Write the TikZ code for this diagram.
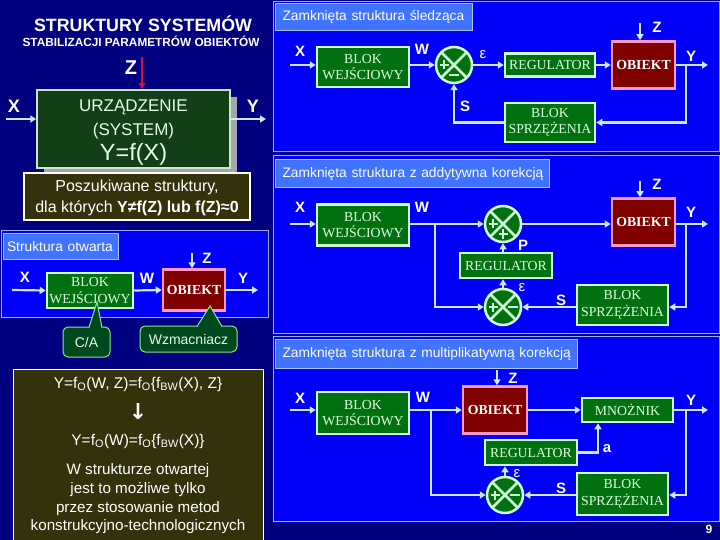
\documentclass[tikz,border=0pt]{standalone}
\usepackage{fontspec}
\setmainfont{Liberation Sans}
\newfontfamily\tmsfont{Liberation Serif}
\newfontfamily\djvfont{DejaVu Sans}
\usetikzlibrary{arrows.meta}
\definecolor{pagebg}{RGB}{0,0,128}
\definecolor{panelf}{RGB}{0,0,250}
\definecolor{panelb}{RGB}{150,170,255}
\definecolor{tabf}{RGB}{64,115,255}
\definecolor{tabb}{RGB}{170,195,255}
\definecolor{gfill}{RGB}{0,112,16}
\definecolor{mint}{RGB}{205,255,210}
\definecolor{gtext}{RGB}{225,255,225}
\definecolor{ofill}{RGB}{128,0,0}
\definecolor{opink}{RGB}{255,150,200}
\definecolor{wirec}{RGB}{205,232,255}
\definecolor{olivef}{RGB}{52,50,10}
\definecolor{urzf}{RGB}{18,62,24}
\definecolor{urzb}{RGB}{200,230,200}
\definecolor{shadowc}{RGB}{165,165,175}
\definecolor{callf}{RGB}{0,72,30}
\definecolor{callb}{RGB}{140,230,140}
\definecolor{redarr}{RGB}{210,20,50}
\begin{document}
\begin{tikzpicture}[x=1pt,y=-1pt,
 gbox/.style={draw=mint, fill=gfill, line width=2.5pt, inner sep=0pt, align=center, text=gtext, font=\tmsfont\fontsize{13.8}{16.5}\selectfont},
 obox/.style={draw=opink, fill=ofill, line width=2.5pt, inner sep=0pt, text=white, font=\tmsfont\bfseries\fontsize{13.8}{16}\selectfont, minimum width=63pt, minimum height=47pt},
 sumj/.style={circle, draw=mint, fill=gfill, line width=2.5pt, minimum size=36pt, inner sep=0pt,
   path picture={\draw[mint, line width=2.5pt] (path picture bounding box.north west) -- (path picture bounding box.south east) (path picture bounding box.north east) -- (path picture bounding box.south west);}},
 sgn/.style={draw=mint, line width=2.2pt},
 wire/.style={draw=wirec, line width=2.2pt},
 arr/.style={wire, -{Triangle[length=6pt,width=7pt]}},
 lbl/.style={anchor=base, inner sep=0pt, text=white, font=\bfseries\fontsize{15}{15}\selectfont},
 epsl/.style={anchor=base, inner sep=0pt, text=white, font=\fontsize{15}{15}\selectfont},
 panel/.style={draw=panelb, fill=panelf, line width=1pt},
 tab/.style={draw=tabb, fill=tabf, line width=1pt, anchor=north west, inner xsep=7pt, inner ysep=0pt, align=left, text=white, font=\fontsize{13.8}{14}\selectfont},
 txt/.style={anchor=base, inner sep=0pt, text=white},
 olive/.style={draw=white, fill=olivef, line width=1.2pt, inner sep=0pt},
 callout/.style={draw=callb, fill=callf, line width=1pt, rounded corners=5pt, inner sep=0pt, text=gtext, font=\fontsize{14}{14}\selectfont},
]
\useasboundingbox (0,0) rectangle (720,540);
\fill[pagebg] (0,0) rectangle (720,540);

% ---------------- top left ----------------
\node[txt, font=\bfseries\fontsize{17.8}{18}\selectfont] (title) at (143,32) {STRUKTURY SYSTEMÓW};
\node[txt, font=\bfseries\fontsize{11.8}{12}\selectfont] (subt) at (141,47) {STABILIZACJI PARAMETRÓW OBIEKTÓW};
\fill[shadowc] (44,97) rectangle (237,175);
\node[draw=urzb, fill=urzf, line width=1.5pt, minimum width=193pt, minimum height=78pt, inner sep=0pt] (urz) at (133.5,129) {};
\node[txt, text=gtext, font=\fontsize{17}{17}\selectfont] (urz1) at (133.5,112) {URZĄDZENIE};
\node[txt, text=gtext, font=\fontsize{17}{17}\selectfont] (urz2) at (133.5,136) {(SYSTEM)};
\node[txt, text=gtext, font=\fontsize{23.5}{24}\selectfont] (urz3) at (133.5,161) {Y=f(X)};
\node[txt, font=\bfseries\fontsize{20}{20}\selectfont] (zt) at (131,75) {Z};
\node[txt, font=\bfseries\fontsize{18}{18}\selectfont] (xt) at (14,113) {X};
\node[txt, font=\bfseries\fontsize{18}{18}\selectfont] (yt) at (253,113) {Y};
\coordinate (xa) at (6,119);
\coordinate (ya) at (266,119);
\coordinate (za) at (142,57);
\draw[arr] (xa) -- (xa -| urz.west);
\draw[arr] (ya -| urz.east) -- (ya);
\draw[draw=redarr, line width=2pt, -{Triangle[length=6pt,width=6pt]}] (za) -- (za |- urz.north);

\node[olive, minimum width=226pt, minimum height=47pt] (posz) at (137,196.5) {};
\node[txt, font=\fontsize{16}{16}\selectfont] (posz1) at (137,192) {Poszukiwane struktury,};
\node[txt, font=\fontsize{16}{16}\selectfont] (posz2) at (137,212) {dla których \textbf{Y≠f(Z) lub f(Z)≈0}};

% ---------------- open structure ----------------
\draw[panel] (1,231) rectangle (268,317);
\node[tab, inner xsep=3.5pt, text width=108pt, minimum height=26pt] (t0) at (3,233) {\mbox{Struktura otwarta}};
\node[gbox, minimum width=86pt, minimum height=35pt] (bw0) at (90,290.5) {BLOK\\WEJŚCIOWY};
\node[obox, minimum width=62pt, minimum height=41pt] (obj0) at (194,290) {OBIEKT};
\coordinate (x0) at (12,290);
\coordinate (y0) at (258,290);
\coordinate (z0) at (192,253);
\draw[arr] (x0) -- (bw0.west);
\draw[arr] (bw0.east) -- (obj0.west);
\draw[arr] (obj0.east) -- (y0);
\draw[arr] (z0) -- (z0 |- obj0.north);
\node[lbl] (lx0) at (25,282) {X};
\node[lbl] (lw0) at (147,283) {W};
\node[lbl] (lz0) at (207,263) {Z};
\node[lbl] (ly0) at (243,283) {Y};

\node[callout, minimum width=47pt, minimum height=30pt] (ca) at (86.5,342) {C/A};
\coordinate (cat) at (97,302);
\fill[callf] (89,328.5) -- (cat) -- (102,328.5) -- cycle;
\draw[callb, line width=1pt] (89,327.5) -- (cat) -- (102,327.5);
\node[callout, minimum width=97pt, minimum height=26pt] (wz) at (188.5,339) {Wzmacniacz};
\coordinate (wzt) at (210,306);
\fill[callf] (197,327.5) -- (wzt) -- (222,327.5) -- cycle;
\draw[callb, line width=1pt] (197,326.5) -- (wzt) -- (222,326.5);

% ---------------- bottom-left box ----------------
\node[olive, anchor=north west, minimum width=250pt, minimum height=175pt] (fbox) at (13,369) {};
\node[txt, font=\fontsize{15.5}{16}\selectfont] (b1) at (138,388) {Y=f\textsubscript{O}(W, Z)=f\textsubscript{O}\{f\textsubscript{BW}(X), Z\}};
\node[txt, font=\djvfont\bfseries\fontsize{22}{22}\selectfont] (b2) at (138,419) {↓};
\node[txt, font=\fontsize{15.5}{16}\selectfont] (b3) at (138,445) {Y=f\textsubscript{O}(W)=f\textsubscript{O}\{f\textsubscript{BW}(X)\}};
\node[txt, font=\fontsize{15.2}{16}\selectfont] (b4) at (138,474) {W strukturze otwartej};
\node[txt, font=\fontsize{15.2}{16}\selectfont] (b5) at (138,493) {jest to możliwe tylko};
\node[txt, font=\fontsize{15.2}{16}\selectfont] (b6) at (138,512) {przez stosowanie metod};
\node[txt, font=\fontsize{15.2}{16}\selectfont] (b7) at (138,530) {konstrukcyjno-technologicznych};

% ---------------- panel 1 ----------------
\draw[panel] (273,2) rectangle (719,152);
\node[tab, text width=183pt, minimum height=27pt] (t1) at (275,3) {\mbox{Zamknięta struktura śledząca}};
\node[gbox, minimum width=92pt, minimum height=40pt] (bw1) at (363,67) {BLOK\\WEJŚCIOWY};
\node[sumj] (sum1) at (454,65) {};
\node[gbox, minimum width=90pt, minimum height=23pt] (reg1) at (550,65) {REGULATOR};
\node[obox] (obj1) at (643.5,65) {OBIEKT};
\node[gbox, minimum width=90pt, minimum height=39pt] (bs1) at (550,122.5) {BLOK\\SPRZĘŻENIA};
\coordinate (x1) at (290,65);
\coordinate (y1) at (708,65);
\coordinate (z1) at (640,23);
\coordinate (f1) at (686,65);
\draw[arr] (x1) -- (x1 -| bw1.west);
\draw[arr] (bw1.east |- sum1) -- (sum1.west);
\draw[arr] (sum1.east) -- (reg1.west);
\draw[arr] (reg1.east) -- (obj1.west);
\draw[arr] (obj1.east) -- (y1);
\draw[arr] (z1) -- (z1 |- obj1.north);
\draw[arr] (f1) |- (bs1.east);
\draw[arr] (bs1.west) -| (sum1.south);
\draw[sgn] (sum1.center) ++(-10,0) +(-4.5,0) -- +(4.5,0) +(0,-4.5) -- +(0,4.5);
\draw[sgn] (sum1.center) ++(0,10) +(-5,0) -- +(5,0);
\node[lbl] (lx1) at (300,57) {X};
\node[lbl] (lw1) at (422,55) {W};
\node[epsl] (le1) at (483,59) {ε};
\node[lbl] (lz1) at (657,33) {Z};
\node[lbl] (ly1) at (691,62) {Y};
\node[lbl] (ls1) at (465,112) {S};

% ---------------- panel 2 ----------------
\draw[panel] (273,156) rectangle (719,333);
\node[tab, text width=260pt, minimum height=28pt] (t2) at (275,159) {\mbox{Zamknięta struktura z addytywna korekcją}};
\node[gbox, minimum width=92pt, minimum height=41pt] (bw2) at (363,225) {BLOK\\WEJŚCIOWY};
\node[sumj] (sum2a) at (503,224) {};
\node[obox] (obj2) at (643.5,222) {OBIEKT};
\node[gbox, minimum width=92pt, minimum height=25pt] (reg2) at (506,265.5) {REGULATOR};
\node[sumj] (sum2b) at (503,307) {};
\node[gbox, minimum width=91pt, minimum height=40pt] (bs2) at (622.5,305) {BLOK\\SPRZĘŻENIA};
\coordinate (x2) at (290,224);
\coordinate (br2) at (435,224);
\coordinate (y2) at (708,224);
\coordinate (z2) at (640,181);
\coordinate (f2) at (686,224);
\draw[arr] (x2) -- (x2 -| bw2.west);
\draw[arr] (x2 -| bw2.east) -- (sum2a.west);
\draw[arr] (br2) |- (sum2b.west);
\draw[arr] (sum2a.east) -- (sum2a.east -| obj2.west);
\draw[arr] (y2 -| obj2.east) -- (y2);
\draw[arr] (z2) -- (z2 |- obj2.north);
\draw[arr] (f2) |- (sum2b -| bs2.east);
\draw[arr] (sum2b -| bs2.west) -- (sum2b.east);
\draw[arr] (sum2b.north) -- (sum2b.north |- reg2.south);
\draw[arr] (sum2a.south |- reg2.north) -- (sum2a.south);
\draw[sgn] (sum2a.center) ++(-10,0) +(-4.5,0) -- +(4.5,0) +(0,-4.5) -- +(0,4.5);
\draw[sgn] (sum2a.center) ++(0,10) +(-4.5,0) -- +(4.5,0) +(0,-4.5) -- +(0,4.5);
\draw[sgn] (sum2b.center) ++(-10,0) +(-4.5,0) -- +(4.5,0) +(0,-4.5) -- +(0,4.5);
\draw[sgn] (sum2b.center) ++(10,0) +(-5,0) -- +(5,0);
\node[lbl] (lx2) at (300,213) {X};
\node[lbl] (lw2) at (422,213) {W};
\node[lbl] (lz2) at (657,190) {Z};
\node[lbl] (ly2) at (691,218) {Y};
\node[lbl] (lp2) at (523,250) {P};
\node[epsl] (le2) at (522,291) {ε};
\node[lbl] (ls2) at (561,305) {S};

% ---------------- panel 3 ----------------
\draw[panel] (273,336) rectangle (719,521);
\node[tab, text width=288pt, minimum height=29pt] (t3) at (275,339) {\mbox{Zamknięta struktura z multiplikatywną korekcją}};
\node[gbox, minimum width=92pt, minimum height=42pt] (bw3) at (363,413) {BLOK\\WEJŚCIOWY};
\node[obox, minimum width=64pt] (obj3) at (495,410) {OBIEKT};
\node[gbox, minimum width=91pt, minimum height=24pt] (mno3) at (627.5,410) {MNOŻNIK};
\node[gbox, minimum width=92pt, minimum height=25pt] (reg3) at (531,452.5) {REGULATOR};
\node[sumj] (sum3) at (505,495) {};
\node[gbox, minimum width=91pt, minimum height=42pt] (bs3) at (622.5,494) {BLOK\\SPRZĘŻENIA};
\coordinate (x3) at (290,410);
\coordinate (br3) at (431,410);
\coordinate (y3) at (708,410);
\coordinate (z3) at (497,370);
\coordinate (f3) at (686,410);
\coordinate (ta) at (598,452.5);
\draw[arr] (x3) -- (x3 -| bw3.west);
\draw[arr] (x3 -| bw3.east) -- (obj3.west);
\draw[arr] (br3) |- (sum3.west);
\draw[arr] (obj3.east) -- (mno3.west);
\draw[arr] (mno3.east) -- (y3);
\draw[arr] (z3) -- (z3 |- obj3.north);
\draw[arr] (f3) |- (sum3 -| bs3.east);
\draw[arr] (sum3 -| bs3.west) -- (sum3.east);
\draw[arr] (sum3.north) -- (sum3.north |- reg3.south);
\draw[arr] (reg3.east) -- (ta) -- (ta |- mno3.south);
\draw[sgn] (sum3.center) ++(-10,0) +(-4.5,0) -- +(4.5,0) +(0,-4.5) -- +(0,4.5);
\draw[sgn] (sum3.center) ++(10,0) +(-5,0) -- +(5,0);
\node[lbl] (lz3) at (513,383) {Z};
\node[lbl] (lx3) at (300,403) {X};
\node[lbl] (lw3) at (423,402) {W};
\node[lbl] (ly3) at (691,405) {Y};
\node[lbl] (la3) at (607,452) {a};
\node[epsl] (le3) at (517,477) {ε};
\node[lbl] (ls3) at (561,493) {S};

\node[txt, font=\bfseries\fontsize{12}{12}\selectfont] (pg) at (709,533) {9};
\end{tikzpicture}
\end{document}
